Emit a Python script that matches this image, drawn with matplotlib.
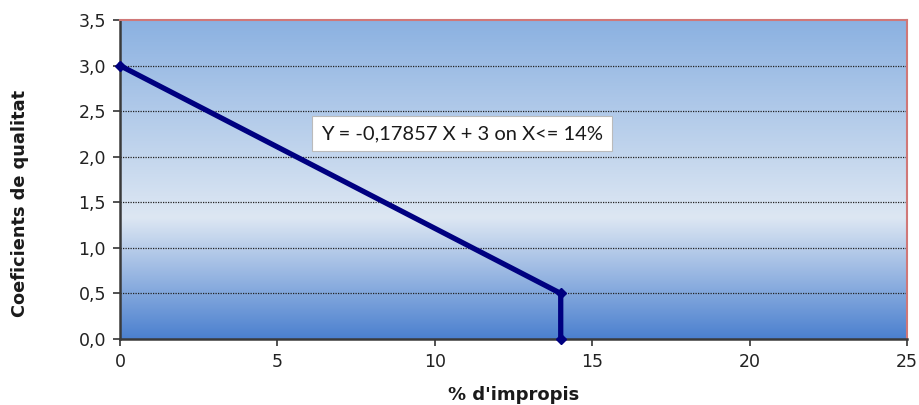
import numpy as np
import matplotlib.pyplot as plt
from matplotlib.colors import LinearSegmentedColormap

x_vals = [0, 14, 14]
y_vals = [3.0, 0.5, 0.0]
x_ticks = [0, 5, 10, 15, 20, 25]
y_ticks = [0.0, 0.5, 1.0, 1.5, 2.0, 2.5, 3.0, 3.5]
label_text = "Y = -0,17857 X + 3 on X<= 14%"

fig = plt.figure(figsize=(9.2, 4.05), dpi=100)
ax = fig.add_axes([0.1304, 0.163, 0.8555, 0.7876])

# background gradient (bottom dark blue -> light -> mid blue at top)
cmap = LinearSegmentedColormap.from_list(
    'bg', [(0.0, '#4b80cf'), (0.38, '#dde7f3'), (1.0, '#8bb1e1')])
grad = np.linspace(0, 1, 256).reshape(-1, 1)
ax.imshow(grad, cmap=cmap, origin='lower', aspect='auto',
          extent=[0, 25, 0, 3.5], zorder=0)

for yv in y_ticks[1:-1]:
    ax.axhline(yv, color='#222222', ls=(0, (1, 1)), lw=0.9, zorder=1)

ax.plot(x_vals, y_vals, color='#000080', lw=3.8, marker='D', ms=5,
        solid_joinstyle='miter', zorder=3, clip_on=False)

ax.text(10.86, 2.25, label_text, ha='center', va='center', fontsize=14.5,
        family='Lato', color='#1a1a1a', zorder=4,
        bbox=dict(boxstyle='square,pad=0.45', fc='white', ec='#bbbbbb', lw=0.8))

ax.set_xlim(0, 25)
ax.set_ylim(0, 3.5)
ax.set_xticks(x_ticks)
ax.set_yticks(y_ticks)
ax.set_xticklabels([str(t) for t in x_ticks])
ax.set_yticklabels([f"{t:.1f}".replace('.', ',') for t in y_ticks])
ax.tick_params(direction='out', length=5, width=1.2, colors='#333333',
               labelsize=12.5, labelcolor='#222222', pad=5)

ax.spines['left'].set_color('#3a3a3a')
ax.spines['bottom'].set_color('#3a3a3a')
ax.spines['left'].set_linewidth(1.8)
ax.spines['bottom'].set_linewidth(1.8)
ax.spines['top'].set_color('#d07878')
ax.spines['right'].set_color('#d07878')
ax.spines['top'].set_linewidth(1.5)
ax.spines['right'].set_linewidth(1.5)

ax.set_xlabel("% d'impropis", fontsize=13, fontweight='bold', color='#1a1a1a', labelpad=11)
ax.set_ylabel("Coeficients de qualitat", fontsize=12.8, fontweight='bold', color='#1a1a1a')
ax.yaxis.set_label_coords(-0.115, 0.426)

fig.savefig('out.png', dpi=100)
